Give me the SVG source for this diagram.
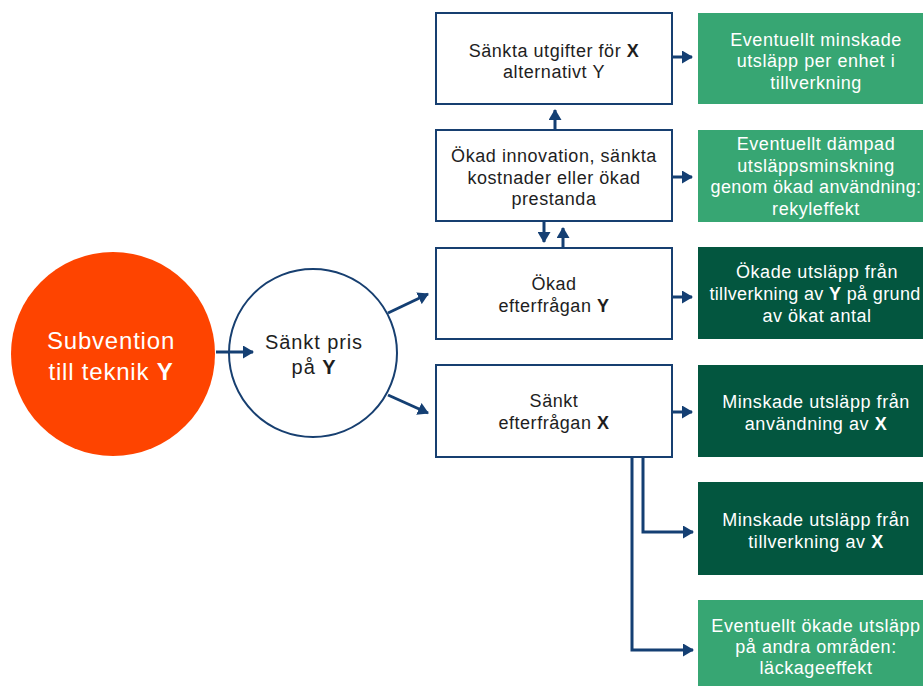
<svg xmlns="http://www.w3.org/2000/svg" width="923" height="686" viewBox="0 0 923 686">
<style>
.box{fill:#ffffff;stroke:#173f70;stroke-width:2}
.lg{fill:#37a673}
.dg{fill:#03563f}
.t{font-family:"Liberation Sans",Arial,sans-serif;font-size:18px;letter-spacing:0.55px;text-anchor:middle;fill:#1e1e1e}
.w{fill:#ffffff}
.b{font-weight:bold}
.c{fill:none;stroke:#143f73;stroke-width:3}
</style>
<defs>
<marker id="ah" markerUnits="userSpaceOnUse" markerWidth="11" markerHeight="13" refX="10" refY="6.5" orient="auto">
<path d="M0,0 L11,6.5 L0,13 z" fill="#143f73"/>
</marker>
</defs>
<rect width="923" height="686" fill="#ffffff"/>

<g id="subvention">
<circle cx="113" cy="354" r="102" fill="#fe4400"/>
<text class="t w" style="font-size:24px;letter-spacing:0.8px" x="111" y="349">Subvention</text>
<text class="t w" style="font-size:24px;letter-spacing:0.8px" x="111" y="380">till teknik <tspan class="b">Y</tspan></text>
</g>

<g id="pris">
<circle cx="313" cy="353" r="84" fill="#ffffff" stroke="#173f70" stroke-width="2"/>
<text class="t" style="font-size:20px;letter-spacing:0.9px" x="314" y="349">Sänkt pris</text>
<text class="t" style="font-size:20px;letter-spacing:0.9px" x="314" y="374">på <tspan class="b">Y</tspan></text>
</g>

<g id="utgifter">
<rect class="box" x="436" y="13" width="236" height="91"/>
<text class="t" x="554" y="56.5">Sänkta utgifter för <tspan class="b">X</tspan></text>
<text class="t" x="554" y="78">alternativt Y</text>
</g>

<g id="innovation">
<rect class="box" x="436" y="130" width="236" height="91"/>
<text class="t" x="554" y="162">Ökad innovation, sänkta</text>
<text class="t" x="554" y="183.5">kostnader eller ökad</text>
<text class="t" x="554" y="205">prestanda</text>
</g>

<g id="okad-efterfragan">
<rect class="box" x="436" y="248" width="236" height="91"/>
<text class="t" x="554" y="290">Ökad</text>
<text class="t" x="554" y="311.5">efterfrågan <tspan class="b">Y</tspan></text>
</g>

<g id="sankt-efterfragan">
<rect class="box" x="436" y="365" width="236" height="92"/>
<text class="t" x="554" y="407">Sänkt</text>
<text class="t" x="554" y="428.5">efterfrågan <tspan class="b">X</tspan></text>
</g>

<g id="g1">
<rect class="lg" x="698" y="13" width="236" height="91"/>
<text class="t w" x="816" y="45.5">Eventuellt minskade</text>
<text class="t w" x="816" y="67">utsläpp per enhet i</text>
<text class="t w" x="816" y="88.5">tillverkning</text>
</g>

<g id="g2">
<rect class="lg" x="698" y="130" width="236" height="92"/>
<text class="t w" x="816" y="150">Eventuellt dämpad</text>
<text class="t w" x="816" y="171.5">utsläppsminskning</text>
<text class="t w" style="letter-spacing:0.4px" x="816" y="193">genom ökad användning:</text>
<text class="t w" x="816" y="214.5">rekyleffekt</text>
</g>

<g id="g3">
<rect class="dg" x="698" y="247" width="236" height="92"/>
<text class="t w" x="817" y="278">Ökade utsläpp från</text>
<text class="t w" style="letter-spacing:0.35px" x="815" y="300">tillverkning av <tspan class="b">Y</tspan> på grund</text>
<text class="t w" x="817" y="322">av ökat antal</text>
</g>

<g id="g4">
<rect class="dg" x="698" y="365" width="236" height="92"/>
<text class="t w" x="816" y="408">Minskade utsläpp från</text>
<text class="t w" x="816" y="430">användning av <tspan class="b">X</tspan></text>
</g>

<g id="g5">
<rect class="dg" x="698" y="482" width="236" height="93"/>
<text class="t w" x="816" y="526">Minskade utsläpp från</text>
<text class="t w" x="816" y="547.5">tillverkning av <tspan class="b">X</tspan></text>
</g>

<g id="g6">
<rect class="lg" x="698" y="600" width="236" height="90"/>
<text class="t w" x="816" y="632">Eventuellt ökade utsläpp</text>
<text class="t w" x="816" y="653">på andra områden:</text>
<text class="t w" x="816" y="674">läckageeffekt</text>
</g>

<g id="connectors">
<line class="c" x1="216" y1="352" x2="253" y2="352" marker-end="url(#ah)"/>
<line class="c" x1="388" y1="313" x2="428" y2="294" marker-end="url(#ah)"/>
<line class="c" x1="388" y1="395" x2="428" y2="413" marker-end="url(#ah)"/>
<line class="c" x1="555" y1="130" x2="555" y2="110" marker-end="url(#ah)"/>
<line class="c" x1="544" y1="221" x2="544" y2="242" marker-end="url(#ah)"/>
<line class="c" x1="563" y1="248" x2="563" y2="228" marker-end="url(#ah)"/>
<line class="c" x1="672" y1="57" x2="692" y2="57" marker-end="url(#ah)"/>
<line class="c" x1="672" y1="177" x2="692" y2="177" marker-end="url(#ah)"/>
<line class="c" x1="672" y1="297" x2="692" y2="297" marker-end="url(#ah)"/>
<line class="c" x1="672" y1="412" x2="692" y2="412" marker-end="url(#ah)"/>
<polyline class="c" points="643,457 643,532 693,532" marker-end="url(#ah)"/>
<polyline class="c" points="632,457 632,650 693,650" marker-end="url(#ah)"/>
</g>
</svg>
